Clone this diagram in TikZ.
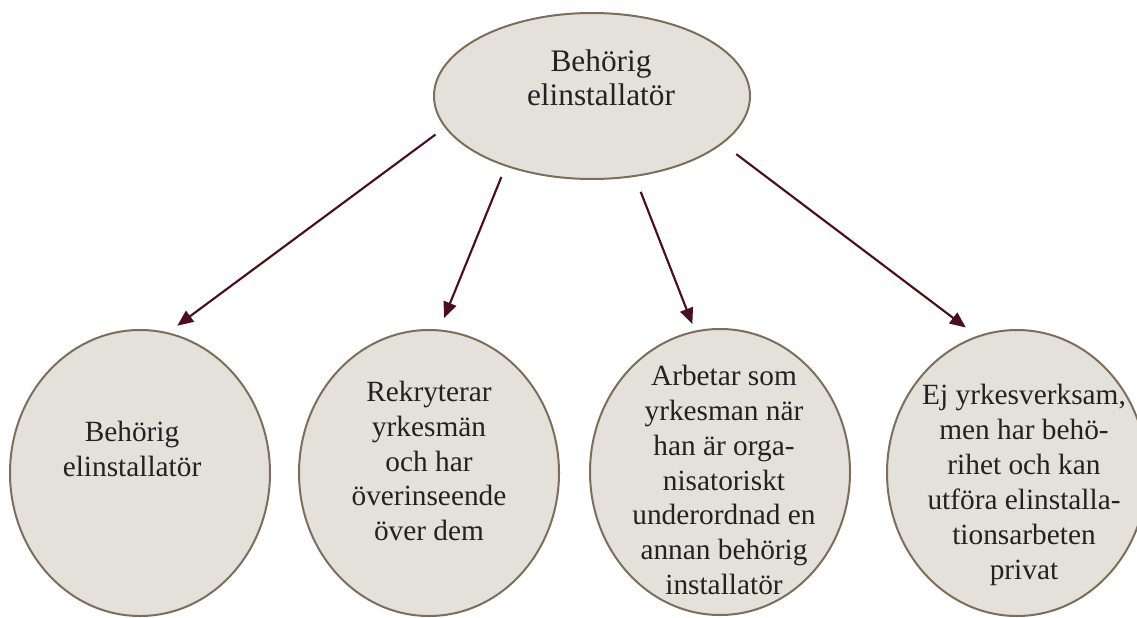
\documentclass[tikz,border=0pt]{standalone}
\usepackage{fontspec}
\setmainfont{Liberation Serif}
\usetikzlibrary{shapes.geometric,arrows.meta}
\definecolor{ovalfill}{HTML}{E4E0DA}
\definecolor{ovaldraw}{HTML}{7D6E5C}
\definecolor{arrowred}{HTML}{4A0F1C}
\definecolor{txtgray}{HTML}{222222}
\begin{document}
\begin{tikzpicture}[x=0.75pt, y=-0.75pt,
  oval/.style={ellipse, draw=ovaldraw, fill=ovalfill, line width=1.5pt, inner sep=0pt, outer sep=0pt},
  topoval/.style={oval, minimum width=237pt, minimum height=124.5pt},
  suboval/.style={oval, minimum width=195pt, minimum height=214.5pt},
  toptxt/.style={align=center, text=txtgray, font=\fontsize{23.5}{25.5}\selectfont},
  subtxt/.style={align=center, text=txtgray, font=\fontsize{22}{26.2}\selectfont},
  link/.style={draw=arrowred, line width=1.6pt, -{Triangle[length=12pt, width=10pt]}}]
\useasboundingbox (0,0) rectangle (1137,617);
\clip (0,0) rectangle (1137,617);
% top oval
\node[topoval] (top) at (592,96) {};
\node[toptxt] (ttop) at (601,78) {Behörig\\elinstallatör};
% the four ovals below
\node[suboval] (e1) at (140,473) {};
\node[suboval] (e2) at (429,473) {};
\node[suboval] (e3) at (720,472) {};
\node[suboval] (e4) at (1017,473) {};
\node[subtxt] (t1) at (132,449) {Behörig\\elinstallatör};
\node[subtxt] (t2) at (429,461) {Rekryterar\\yrkesmän\\och har\\överinseende\\över dem};
\node[subtxt] (t3) at (724,480) {Arbetar som\\yrkesman när\\han är orga-\\nisatoriskt\\underordnad en\\annan behörig\\installatör};
\node[subtxt] (t4) at (1024,485) {Ej yrkesverksam,\\men har behö-\\rihet och kan\\utföra elinstalla-\\tionsarbeten\\privat};
% arrows
\draw[link, shorten <=9.4pt, shorten >=9.4pt] (top.192) -- (e1.79);
\draw[link, shorten <=9.2pt, shorten >=10pt] (top.219) -- (e2.86);
\draw[link, shorten <=12.8pt, shorten >=6pt] (top.298) -- (e3.100);
\draw[link, shorten <=13.5pt, shorten >=11.3pt] (top.340) -- (e4.106);
\end{tikzpicture}
\end{document}
